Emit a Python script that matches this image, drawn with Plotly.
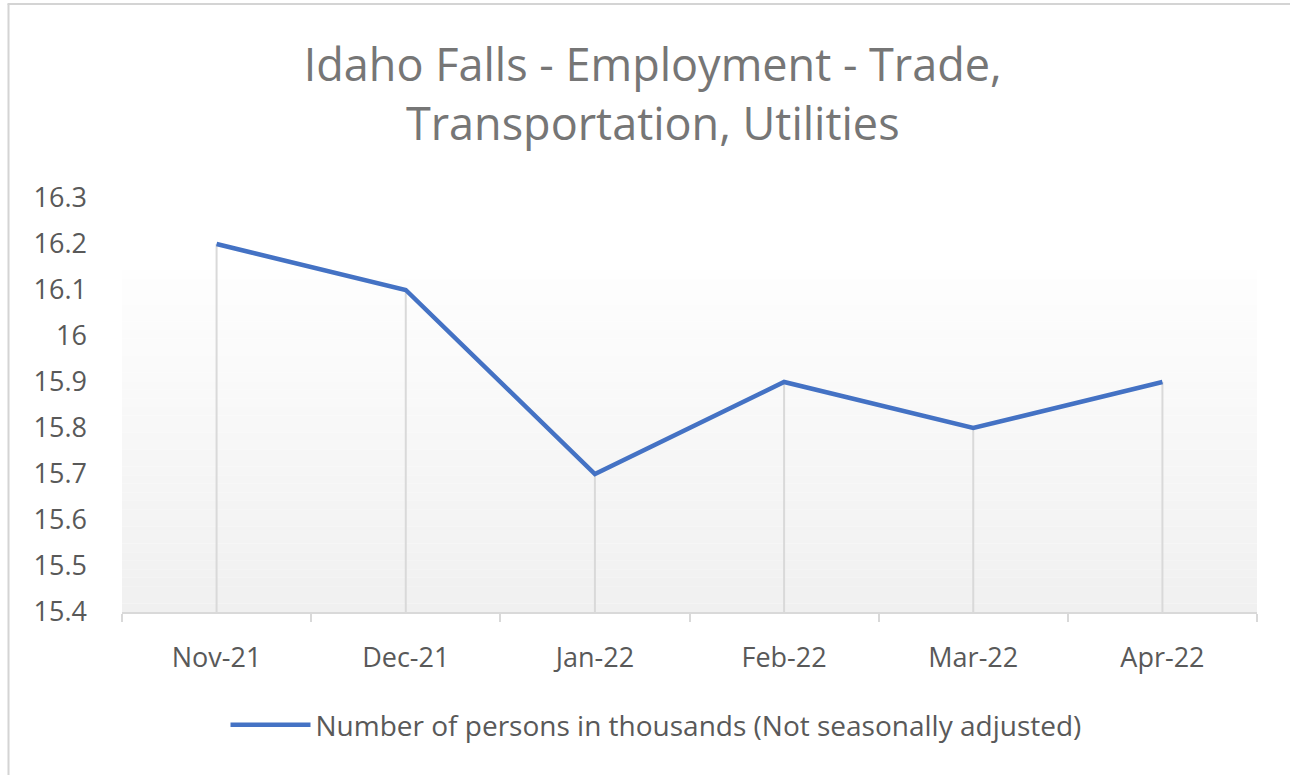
import plotly.graph_objects as go

months = ["Nov-21", "Dec-21", "Jan-22", "Feb-22", "Mar-22", "Apr-22"]
employment = [16.2, 16.1, 15.7, 15.9, 15.8, 15.9]
y_ticks = [15.4, 15.5, 15.6, 15.7, 15.8, 15.9, 16.0, 16.1, 16.2, 16.3]
y_tick_labels = ["15.4", "15.5", "15.6", "15.7", "15.8", "15.9", "16", "16.1", "16.2", "16.3"]
series_name = "Number of persons in thousands (Not seasonally adjusted)"
title_text = "Idaho Falls - Employment - Trade,<br>Transportation, Utilities"

W, H = 1290, 775
L, R, T, B = 122, 33, 198, 163
pw, ph = W - L - R, H - T - B

def px_x(px):
    return (px - L) / pw

def px_y(py):
    return (H - B - py) / ph

ymin = y_ticks[0]

# drop lines built from the data
drop_x, drop_y = [], []
for m, v in zip(months, employment):
    drop_x += [m, m, None]
    drop_y += [v, ymin, None]

fig = go.Figure()
fig.add_trace(go.Scatter(x=drop_x, y=drop_y, mode="lines",
                         line=dict(color="#d9d9d9", width=2),
                         showlegend=False, hoverinfo="skip"))
fig.add_trace(go.Scatter(x=months, y=employment, mode="lines",
                         name=series_name,
                         line=dict(color="#4472C4", width=4.5)))

shapes = []
# gradient plot-area background
g_top, g_bot = 270, 612
n = 40
for i in range(n):
    y0 = g_top + (g_bot - g_top) * i / n
    y1 = g_top + (g_bot - g_top) * (i + 1) / n
    t = (i + 0.5) / n
    c = int(round(254 - (254 - 240) * t))
    shapes.append(dict(type="rect", xref="paper", yref="paper",
                       x0=0, x1=1, y0=px_y(y1), y1=px_y(y0),
                       fillcolor=f"rgb({c},{c},{c})", line=dict(width=0),
                       layer="below"))
# chart border (left and top)
shapes.append(dict(type="line", xref="paper", yref="paper",
                   x0=px_x(8.5), x1=px_x(8.5), y0=px_y(4), y1=px_y(790),
                   line=dict(color="#d4d4d4", width=2)))
shapes.append(dict(type="line", xref="paper", yref="paper",
                   x0=px_x(7.5), x1=px_x(1300), y0=px_y(4), y1=px_y(4),
                   line=dict(color="#d4d4d4", width=2)))

fig.update_layout(
    width=W, height=H,
    margin=dict(l=L, r=R, t=T, b=B),
    paper_bgcolor="white", plot_bgcolor="rgba(0,0,0,0)",
    font=dict(family="Open Sans", color="#595959"),
    title=dict(text=title_text, x=0.506, xanchor="center", xref="container",
               y=1 - 81 / H, yanchor="middle", yref="container",
               font=dict(size=45, color="#767676", family="Open Sans")),
    shapes=shapes,
    showlegend=True,
    legend=dict(orientation="h", x=px_x(656), xanchor="center",
                y=px_y(725), yanchor="middle", itemwidth=80,
                font=dict(size=28, color="#595959"),
                bgcolor="rgba(0,0,0,0)"),
    xaxis=dict(type="category", categoryorder="array", categoryarray=months,
               range=[-0.5, len(months) - 0.5],
               tickson="boundaries", ticks="outside", ticklen=8,
               tickcolor="#d9d9d9", tickwidth=2,
               showline=True, linecolor="#d9d9d9", linewidth=2,
               showgrid=False, zeroline=False,
               tickfont=dict(size=27, color="#595959"),
               ticklabelstandoff=21),
    yaxis=dict(range=[y_ticks[0], y_ticks[-1]], tickvals=y_ticks,
               ticktext=y_tick_labels, showgrid=False, zeroline=False,
               showline=False, ticks="",
               tickfont=dict(size=27, color="#595959"),
               ticklabelstandoff=34),
)

fig.write_html("out.html", config={"displayModeBar": False},
               post_script="document.body.style.margin='0';")
